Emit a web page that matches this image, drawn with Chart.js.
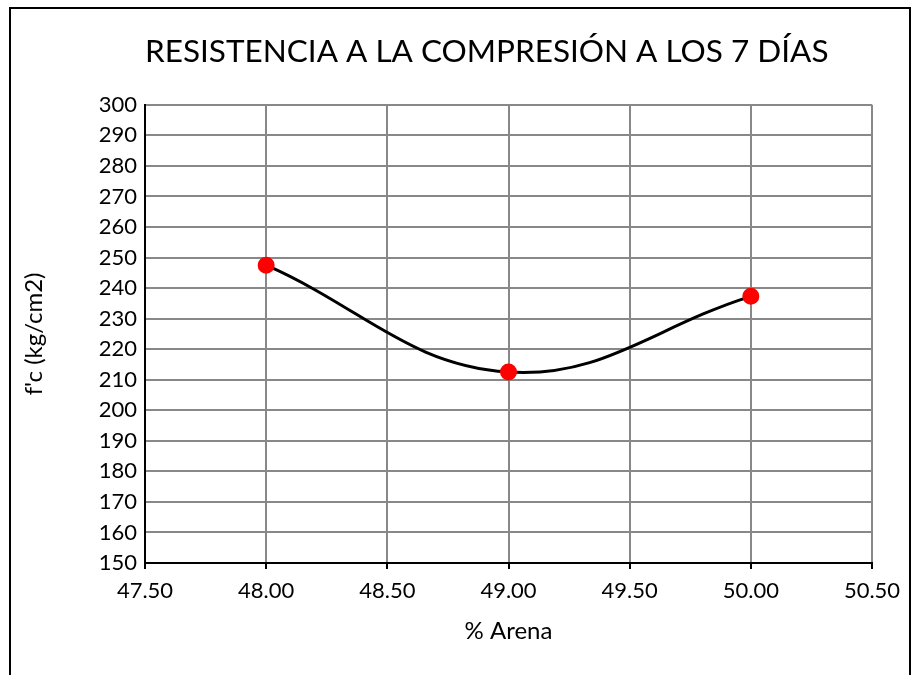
<!DOCTYPE html>
<html>
<head>
<meta charset="utf-8">
<script src="https://cdn.jsdelivr.net/npm/chart.js@4"></script>
<style>
  body { margin: 0; background: #fff; }
  #wrap { position: relative; width: 917px; height: 675px; }
  #frame { position: absolute; left: 9px; top: 7px; width: 902px; height: 720px; border: 2px solid #000; box-sizing: border-box; pointer-events: none; }
</style>
</head>
<body>
<div id="wrap">
  <canvas id="chart" width="917" height="675"></canvas>
  <div id="frame"></div>
</div>
<script>
// % arena vs f'c a los 7 dias
const arena = [48.0, 49.0, 50.0];
const fc = [247.5, 212.5, 237.3];
const xTicks = [47.5, 48.0, 48.5, 49.0, 49.5, 50.0, 50.5];

const font = "Lato, 'Open Sans', sans-serif";

new Chart(document.getElementById("chart"), {
    type: "scatter",
    data: {
        datasets: [{
            data: arena.map((x, i) => ({ x: x, y: fc[i] })),
            showLine: true,
            tension: 0.4,
            borderColor: "#000",
            borderWidth: 3,
            pointBackgroundColor: "#ff0000",
            pointBorderColor: "#ff0000",
            pointRadius: 7,
            pointHoverRadius: 7
        }]
    },
    options: {
        responsive: false,
        animation: false,
        layout: { padding: { left: 20, right: 45, top: 10, bottom: 25 } },
        plugins: {
            legend: { display: false },
            tooltip: { enabled: false },
            title: {
                display: true,
                fullSize: false,
                align: "start",
                text: "RESISTENCIA A LA COMPRESIÓN A LOS 7 DÍAS",
                color: "#000",
                font: { family: font, size: 31.5, weight: "normal" },
                padding: { top: 23, bottom: 34 }
            }
        },
        scales: {
            x: {
                type: "linear",
                min: 47.5,
                max: 50.5,
                afterBuildTicks: axis => { axis.ticks = xTicks.map(v => ({ value: v })); },
                afterFit: axis => { axis.height = 87; },
                ticks: {
                    color: "#000",
                    font: { family: font, size: 22 },
                    padding: 9,
                    maxRotation: 0,
                    callback: v => Number(v).toFixed(2)
                },
                grid: { color: "#888", lineWidth: 2, tickLength: 6, tickColor: "#000" },
                border: { color: "#000", width: 2 },
                title: {
                    display: true,
                    text: "% Arena",
                    color: "#000",
                    font: { family: font, size: 24 },
                    padding: { top: 0, bottom: 4 }
                }
            },
            y: {
                min: 150,
                max: 300,
                afterFit: axis => { axis.width = 125; },
                ticks: {
                    stepSize: 10,
                    color: "#000",
                    font: { family: font, size: 22 },
                    padding: 8
                },
                grid: { color: "#888", lineWidth: 2, drawTicks: false },
                border: { color: "#000", width: 2 },
                title: {
                    display: true,
                    text: "f'c (kg/cm2)",
                    color: "#000",
                    font: { family: font, size: 24 },
                    padding: { top: 0, bottom: 0 }
                }
            }
        }
    }
});
</script>
</body>
</html>
